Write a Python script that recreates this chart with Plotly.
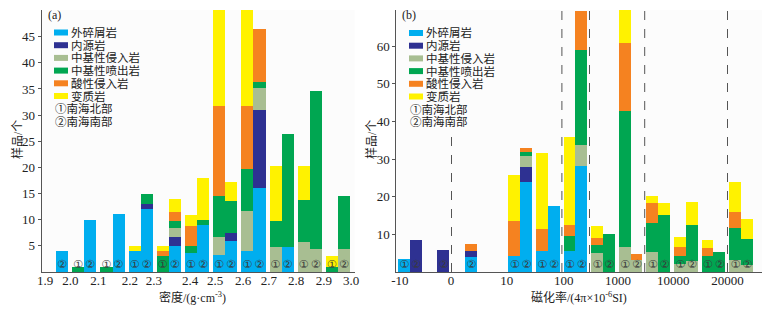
import plotly.graph_objects as go

# ---------------- data ----------------
rock_types = ["外碎屑岩", "内源岩", "中基性侵入岩", "中基性喷出岩", "酸性侵入岩", "变质岩"]
rock_colors = ["#00aeef", "#2e3192", "#a8be92", "#00a651", "#f58220", "#fff200"]
region_labels = ["①", "②"]
region_names = ["①南海北部", "②南海南部"]

# (a) density intervals 1.9-2.0 ... 2.9-3.0
density_ticks = ["1.9", "2.0", "2.1", "2.2", "2.3", "2.4", "2.5", "2.6", "2.7", "2.8", "2.9", "3.0"]
# north (①) counts per rock type, one value per density interval
dens_north = {
    "外碎屑岩":   [0, 0, 0, 4, 0, 3.7, 3.2, 4.0, 0, 0, 0],
    "内源岩":     [0, 0, 0, 0, 0, 0, 0, 0, 0, 0, 0],
    "中基性侵入岩": [0, 0, 0, 0, 0, 0, 3.4, 7.6, 4.8, 5.7, 0],
    "中基性喷出岩": [0, 1, 1, 0, 3, 1.3, 8.0, 8.1, 4.9, 8.0, 1],
    "酸性侵入岩":  [0, 0, 0, 0, 1, 3.8, 17.1, 12.0, 0, 0, 0],
    "变质岩":     [0, 0, 0, 1, 1, 2.1, 20.0, 20.0, 10.6, 6.6, 2],
}
# south (②)
dens_south = {
    "外碎屑岩":   [4, 10, 11, 12, 5, 8.9, 5.9, 16.1, 4.8, 0, 0],
    "内源岩":     [0, 0, 0, 1, 1.6, 0, 1.5, 14.9, 0, 0, 0],
    "中基性侵入岩": [0, 0, 0, 0, 1.9, 0, 0, 4.1, 0, 4.4, 4.4],
    "中基性喷出岩": [0, 0, 0, 2, 1.2, 1.0, 6.1, 1.3, 21.6, 30.3, 10.2],
    "酸性侵入岩":  [0, 0, 0, 0, 1.8, 0, 0, 10.1, 0, 0, 0],
    "变质岩":     [0, 0, 0, 0, 2.5, 8.1, 3.8, 0, 0, 0, 0],
}

# (b) magnetic susceptibility intervals
mag_ticks = ["-10", "0", "10", "100", "1000", "10000", "20000"]
mag_north = {
    "外碎屑岩":   [3.4, 0, 0, 0, 4.3, 5.6, 5.6, 0, 0, 0, 0, 0, 0],
    "内源岩":     [0, 0, 0, 0, 0, 0, 0, 0, 0, 0, 0, 0, 0],
    "中基性侵入岩": [0, 0, 0, 0, 0, 0, 0, 5.1, 6.7, 5.2, 2.2, 0, 3.1],
    "中基性喷出岩": [0, 0, 0, 0, 0, 0, 4.0, 2.0, 36.0, 7.8, 2.0, 4.2, 8.6],
    "酸性侵入岩":  [0, 0, 0, 0, 9.3, 5.8, 2.8, 2.0, 18.2, 5.4, 2.5, 2.2, 4.3],
    "变质岩":     [0, 0, 0, 0, 12.3, 20.1, 23.5, 3.1, 10.0, 1.7, 2.6, 2.0, 7.8],
}
mag_south = {
    "外碎屑岩":   [0, 0, 4.0, 0, 23.9, 17.6, 28.1, 0, 0, 0, 0, 0, 0],
    "内源岩":     [8.6, 5.8, 1.6, 0, 4.0, 0, 0, 0, 0, 0, 0, 0, 0],
    "中基性侵入岩": [0, 0, 0, 0, 2.9, 0, 5.6, 0, 3.1, 0, 2.9, 0, 1.8],
    "中基性喷出岩": [0, 0, 0, 0, 1.1, 0, 25.4, 10.0, 0, 15.1, 9.5, 5.2, 7.1],
    "酸性侵入岩":  [0, 0, 1.8, 0, 1.1, 0, 10.3, 0, 1.6, 0, 0, 0, 0],
    "变质岩":     [0, 0, 0, 0, 0, 0, 0, 0, 0, 3.3, 6.1, 0, 5.1],
}

# ---------------- layout constants ----------------
W, H = 778, 312
def px(x):
    return x / W
def py(y):
    return 1 - y / H

SERIF = "Liberation Serif, Noto Sans CJK SC, serif"
CJK = "Liberation Serif, Noto Sans CJK SC, sans-serif"
OFF = (0.285, 0.715)   # position of ① / ② bar inside an interval
BW = 0.43

fig = go.Figure()


def add_panel(north, south, xa, ya, label_y):
    n = len(next(iter(north.values())))
    xs = [k + OFF[0] for k in range(n)] + [k + OFF[1] for k in range(n)]
    for name, col in zip(rock_types, rock_colors):
        ys = north[name] + south[name]
        fig.add_trace(go.Bar(x=xs, y=ys, width=BW, marker=dict(color=col, line=dict(width=0)),
                             name=name, showlegend=False, xaxis=xa, yaxis=ya))
    # region markers at the bottom of every non-empty bar
    tx, tt = [], []
    for r, data in enumerate((north, south)):
        for k in range(n):
            if sum(data[t][k] for t in rock_types) > 0:
                tx.append(k + OFF[r])
                tt.append(region_labels[r])
    fig.add_trace(go.Scatter(x=tx, y=[label_y] * len(tx), text=tt, mode="text",
                             textfont=dict(size=11, color="#3a3a3a", family="DejaVu Sans"),
                             showlegend=False, hoverinfo="skip", xaxis=xa, yaxis=ya))


add_panel(dens_north, dens_south, "x", "y", 1.2)
add_panel(mag_north, mag_south, "x2", "y2", 1.75)

ydom = [py(272), py(10)]
axis_common = dict(showgrid=False, zeroline=False, showline=True, linecolor="#555", linewidth=1,
                   automargin=False, tickfont=dict(family=SERIF, size=13, color="#222"))

fig.update_layout(
    width=W, height=H, margin=dict(l=0, r=0, t=0, b=0, pad=0, autoexpand=False),
    paper_bgcolor="white", plot_bgcolor="#fcfcfc",
    barmode="stack", bargap=0, showlegend=False,
    xaxis=dict(domain=[px(41.7), px(354.7)], range=[0, 11.1], anchor="y",
               tickvals=[0.12, 1.02, 2.01, 3.13, 3.98, 5.26, 6.15, 7.14, 8.06, 9.02, 10.01, 10.97],
               ticktext=density_ticks, ticks="", ticklabelstandoff=-4, **axis_common),
    yaxis=dict(domain=ydom, range=[0, 50.1], anchor="x", tickvals=[5, 10, 15, 20, 25, 30, 35, 40, 45],
               ticks="outside", ticklen=3, tickcolor="#555", **axis_common),
    xaxis2=dict(domain=[px(396.3), px(762)], range=[0, 13.25], anchor="y2",
                tickvals=[0.13, 1.98, 4.0, 6.07, 8.03, 10.03, 12.0], ticktext=mag_ticks,
                ticks="", ticklabelstandoff=-4, **axis_common),
    yaxis2=dict(domain=ydom, range=[0, 69.6], anchor="x2", tickvals=[10, 20, 30, 40, 50, 60],
                ticks="outside", ticklen=3, tickcolor="#555", **axis_common),
)

# dashed separators in panel (b); the one at 0 starts below the legend
for k in [2, 6, 7, 9, 12]:
    top = 1.0 if k != 2 else (271.7 - 131) / 261.7
    fig.add_shape(type="line", xref="x2", yref="y2 domain", x0=k, x1=k, y0=0, y1=top,
                  line=dict(color="#555", width=1, dash="dash"))

ann = []
# panel tags
ann.append(dict(x=px(47), y=py(15), text="(a)", xanchor="left"))
ann.append(dict(x=px(401), y=py(15), text="(b)", xanchor="left"))
# axis titles
ann.append(dict(x=px(17), y=py(140), text="样品/个", textangle=-90))
ann.append(dict(x=px(371), y=py(140), text="样品/个", textangle=-90))
ann.append(dict(x=px(192), y=py(297), text="密度/(g·cm<sup>-3</sup>)"))
ann.append(dict(x=px(579), y=py(297), text="磁化率/(4π×10<sup>-6</sup>SI)"))

# manual legends
for sx, ty0 in [(54, 32.5), (409, 33.0)]:
    step = 12.7
    for i, (name, col) in enumerate(zip(rock_types, rock_colors)):
        yc = ty0 + i * step
        fig.add_shape(type="rect", xref="paper", yref="paper", x0=px(sx), x1=px(sx + 14),
                      y0=py(yc + 3), y1=py(yc - 3), fillcolor=col, line=dict(width=0))
        ann.append(dict(x=px(sx + 16), y=py(yc), text=name, xanchor="left",
                        font=dict(family=CJK, size=11.5, color="#222")))
    for j, rn in enumerate(region_names):
        yc = ty0 + (6 + j) * step
        ann.append(dict(x=px(sx), y=py(yc), text=rn, xanchor="left",
                        font=dict(family=CJK, size=11.5, color="#222")))

for a in ann:
    a.setdefault("xref", "paper")
    a.setdefault("yref", "paper")
    a.setdefault("showarrow", False)
    a.setdefault("font", dict(family=CJK, size=12, color="#222"))
    a.setdefault("xanchor", "center")
    a.setdefault("yanchor", "middle")
    a.setdefault("borderpad", 0)
    fig.add_annotation(**a)

fig.write_html("out.html", config={"displayModeBar": False},
               post_script="document.body.style.margin='0';document.body.style.padding='0';")
